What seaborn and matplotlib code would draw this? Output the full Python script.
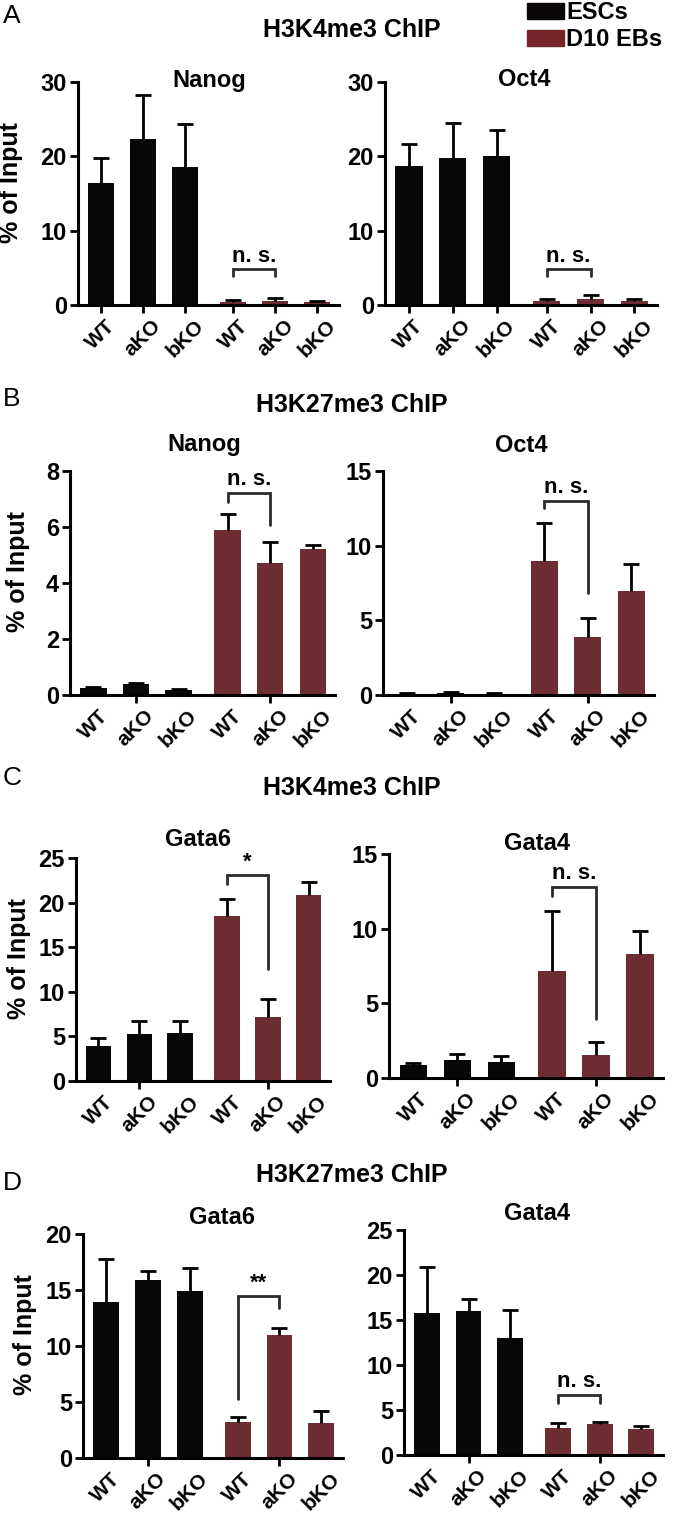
import numpy as np
import pandas as pd
import matplotlib
matplotlib.use("Agg")
import matplotlib.pyplot as plt
from matplotlib.patches import Patch
import seaborn as sns

genotypes = ["WT", "aKO", "bKO"]
stages = ["ESCs", "D10 EBs"]

# mean and upper error (% of input), order: ESC WT/aKO/bKO, D10 WT/aKO/bKO
a_nanog = [16.4, 22.3, 18.6, 0.4, 0.5, 0.4]
a_nanog_err = [3.4, 5.9, 5.7, 0.3, 0.4, 0.2]
a_oct4 = [18.7, 19.8, 20.1, 0.5, 0.8, 0.5]
a_oct4_err = [2.9, 4.7, 3.5, 0.3, 0.5, 0.3]

b_nanog = [0.25, 0.38, 0.18, 5.91, 4.72, 5.2]
b_nanog_err = [0.05, 0.04, 0.04, 0.57, 0.75, 0.14]
b_oct4 = [0.1, 0.15, 0.1, 8.96, 3.9, 6.98]
b_oct4_err = [0.05, 0.05, 0.05, 2.54, 1.23, 1.76]

c_gata6 = [3.94, 5.32, 5.4, 18.55, 7.2, 20.8]
c_gata6_err = [0.93, 1.38, 1.3, 1.85, 2.0, 1.5]
c_gata4 = [0.85, 1.18, 1.05, 7.19, 1.56, 8.3]
c_gata4_err = [0.15, 0.45, 0.4, 4.0, 0.85, 1.52]

d_gata6 = [13.97, 15.9, 14.95, 3.18, 10.94, 3.12]
d_gata6_err = [3.83, 0.77, 2.05, 0.52, 0.71, 1.08]
d_gata4 = [15.74, 16.0, 13.04, 3.04, 3.44, 2.85]
d_gata4_err = [5.16, 1.3, 3.06, 0.48, 0.19, 0.41]

# bracket: top, left leg end, right leg end, label
a_nanog_sig = (4.8, 3.9, 3.9, "n. s.")
a_oct4_sig = (4.8, 3.9, 3.9, "n. s.")
b_nanog_sig = (7.22, 6.9, 6.06, "n. s.")
b_oct4_sig = (13.0, 12.5, 6.8, "n. s.")
c_gata6_sig = (23.05, 22.1, 12.6, "*")
c_gata4_sig = (12.8, 12.2, 3.95, "n. s.")
d_gata6_sig = (14.47, 5.26, 13.4, "**")
d_gata4_sig = (6.67, 5.74, 5.74, "n. s.")

sns.set_theme(style="ticks")
plt.rcParams["font.family"] = ["Liberation Sans", "DejaVu Sans"]
plt.rcParams["font.weight"] = "bold"
for k in ["text.color", "axes.labelcolor", "xtick.color", "ytick.color", "axes.edgecolor"]:
    plt.rcParams[k] = "black"

BLACK = "#0a0505"
RED = "#77232a"
W, H = 677, 1513

fig = plt.figure(figsize=(W / 100, H / 100), dpi=100)


def box(x0, x1, ytop, ybot):
    return [x0 / W, 1 - ybot / H, (x1 - x0) / W, (ybot - ytop) / H]


def panel(rect, vals, errs, sig, title, tpos, ymax, step, all_ticks, ylab=None):
    ax = fig.add_axes(rect)
    pos = np.arange(6) + np.array([0, 0, 0, 0.15, 0.15, 0.15])
    df = pd.DataFrame({
        "x": pos,
        "val": vals,
        "stage": np.repeat(stages, 3),
    })
    sns.barplot(data=df, x="x", y="val", hue="stage", native_scale=True,
                dodge=False, palette=[BLACK, RED], width=0.62,
                errorbar=None, legend=False, ax=ax, linewidth=0)
    eb = ax.errorbar(pos, vals, yerr=[np.zeros(6), errs], fmt="none",
                     ecolor="black", elinewidth=2, capsize=5.5, capthick=2,
                     zorder=1)
    eb[1][0].set_visible(False)
    top, lft, rgt, lab = sig
    ax.plot([pos[3], pos[3], pos[4], pos[4]], [lft, top, top, rgt],
            color="#2b2b2b", lw=2, solid_joinstyle="miter", clip_on=False)
    ax.text((pos[3] + pos[4]) / 2, top + ymax * 0.012, lab, ha="center",
            va="bottom", fontsize=16, fontweight="bold")
    ax.set_xlim(-0.55, pos[-1] + 0.52)
    ax.set_ylim(0, ymax)
    ax.set_yticks(np.arange(0, ymax + 0.01, step))
    ax.set_xticks(pos)
    ax.set_xticklabels(genotypes * 2, rotation=45, ha="center",
                       fontsize=15, fontweight="bold")
    for t in ax.get_yticklabels():
        t.set_fontsize(17)
        t.set_fontweight("bold")
    ax.set_xlabel("")
    ax.set_ylabel("")
    sns.despine(ax=ax)
    for s in ["left", "bottom"]:
        ax.spines[s].set_linewidth(2.2)
    ax.tick_params(axis="both", width=2, length=6, pad=2)
    if not all_ticks:
        for i, t in enumerate(ax.xaxis.get_major_ticks()):
            if i not in (1, 4):
                t.tick1line.set_visible(False)
    fig.text(tpos[0] / W, 1 - tpos[1] / H, title, ha="center", va="center",
             fontsize=17, fontweight="bold")
    if ylab is not None:
        ax.set_ylabel("% of Input", fontsize=18, fontweight="bold")
        ax.yaxis.set_label_coords(ylab, 0.55)
    return ax


panel(box(78, 339, 82, 305), a_nanog, a_nanog_err, a_nanog_sig, "Nanog", (209, 80), 30, 10, True, -0.21)
panel(box(385, 657, 82, 305), a_oct4, a_oct4_err, a_oct4_sig, "Oct4", (524, 80), 30, 10, True)
panel(box(70, 335, 471, 695), b_nanog, b_nanog_err, b_nanog_sig, "Nanog", (204, 445), 8, 2, False, -0.15)
panel(box(383, 654, 471, 695), b_oct4, b_oct4_err, b_oct4_sig, "Oct4", (521, 445), 15, 5, False)
panel(box(76, 330, 858, 1081), c_gata6, c_gata6_err, c_gata6_sig, "Gata6", (198, 840), 25, 5, False, -0.177)
panel(box(389, 663, 854, 1078), c_gata4, c_gata4_err, c_gata4_sig, "Gata4", (537, 843), 15, 5, False)
panel(box(83, 343, 1234, 1458), d_gata6, d_gata6_err, d_gata6_sig, "Gata6", (222, 1218), 20, 5, False, -0.177)
panel(box(404, 663, 1230, 1455), d_gata4, d_gata4_err, d_gata4_sig, "Gata4", (537, 1213), 25, 5, False)

for letter, ly, title, ty in [("A", 16, "H3K4me3 ChIP", 30), ("B", 399, "H3K27me3 ChIP", 405),
                              ("C", 778, "H3K4me3 ChIP", 788), ("D", 1183, "H3K27me3 ChIP", 1175)]:
    fig.text(352 / W, 1 - ty / H, title, ha="center", va="center",
             fontsize=18, fontweight="bold")
    fig.text(3 / W, 1 - ly / H, letter, ha="left", va="center",
             fontsize=19, fontweight="normal")

handles = [Patch(color=BLACK, label=stages[0]), Patch(color=RED, label=stages[1])]
fig.legend(handles=handles, loc="upper left", bbox_to_anchor=(527 / W, 1 - 1 / H),
           frameon=False, handlelength=1.57, handleheight=0.64,
           handletextpad=0.08, labelspacing=0.19, borderaxespad=0,
           borderpad=0.0, prop={"weight": "bold", "size": 17})

fig.savefig("out.png", dpi=100)
